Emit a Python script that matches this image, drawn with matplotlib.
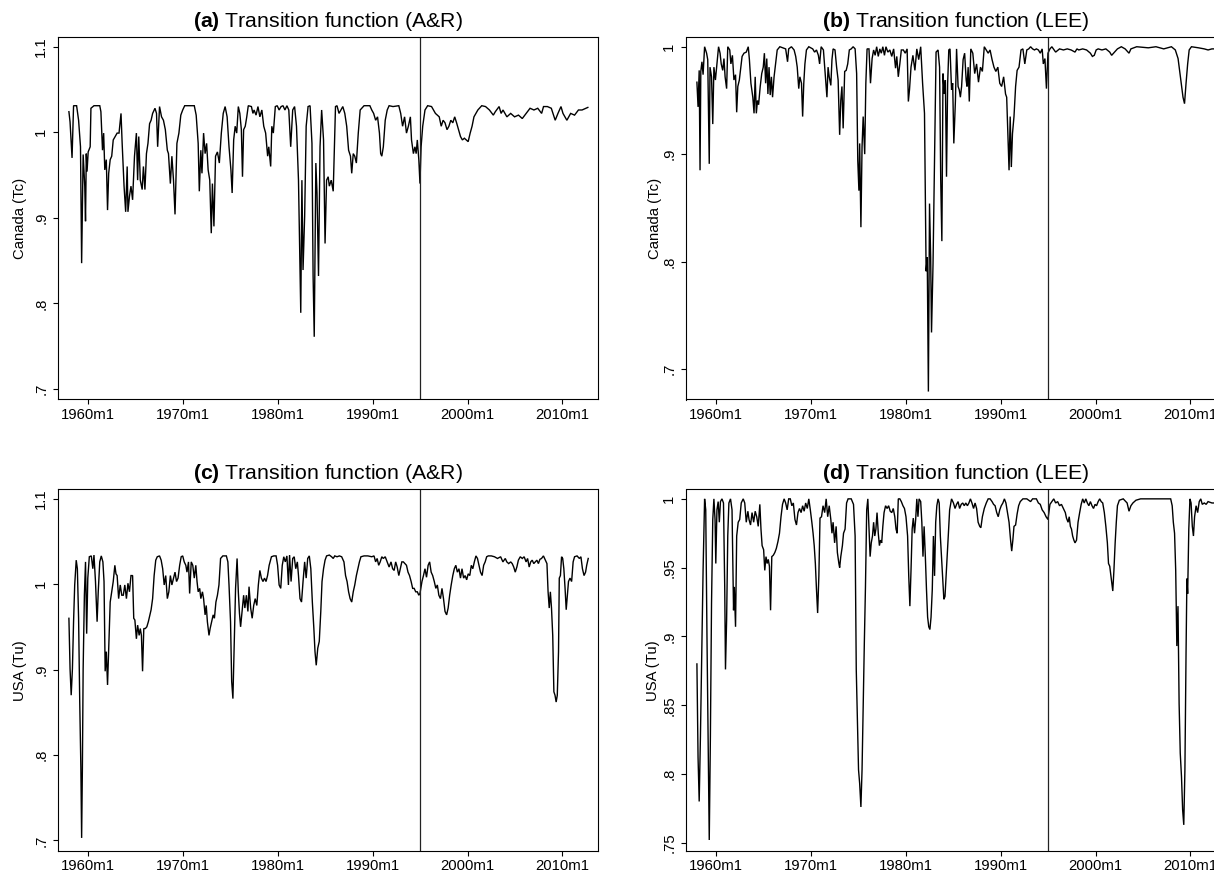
import matplotlib
matplotlib.use('Agg')
import matplotlib.pyplot as plt
import numpy as np

plt.rcParams['font.family'] = ['Liberation Sans', 'DejaVu Sans']
plt.rcParams['mathtext.fontset'] = 'custom'
plt.rcParams['mathtext.rm'] = 'Liberation Sans'
plt.rcParams['mathtext.bf'] = 'Liberation Sans:bold'

# ---------------- data (decimal year, value) ----------------
canada_ar = [
(1958.00,1.024),(1958.12,1.012),(1958.33,0.970),(1958.49,1.031),(1958.81,1.031),(1959.02,1.014),(1959.22,0.983),(1959.34,0.847),(1959.50,0.974),(1959.67,0.937),(1959.75,0.896),(1959.83,0.975),(1959.91,0.954),(1960.03,0.977),(1960.24,0.983),(1960.32,1.028),(1960.64,1.031),(1961.25,1.031),(1961.37,1.024),(1961.54,0.979),(1961.66,0.999),(1961.78,0.956),(1961.94,0.968),(1962.07,0.909),(1962.19,0.952),(1962.35,0.968),(1962.51,0.972),(1962.67,0.991),(1962.88,0.995),(1963.08,0.999),(1963.28,0.999),(1963.49,1.022),(1963.61,0.987),(1963.81,0.937),(1963.98,0.907),(1964.14,0.960),(1964.22,0.907),(1964.38,0.925),(1964.54,0.937),(1964.71,0.921),(1964.91,0.972),(1965.11,0.999),(1965.24,0.944),(1965.36,0.995),(1965.52,0.944),(1965.72,0.933),(1965.85,0.960),(1966.01,0.933),(1966.17,0.975),(1966.33,0.987),(1966.50,1.010),(1966.66,1.014),(1966.82,1.022),(1967.07,1.028),(1967.23,1.022),(1967.35,0.983),(1967.55,1.030),(1967.76,1.018),(1967.96,1.014),(1968.16,1.003),(1968.37,0.979),(1968.49,0.975),(1968.69,0.940),(1968.85,0.972),(1969.02,0.944),(1969.18,0.904),(1969.38,0.987),(1969.59,0.999),(1969.79,1.020),(1969.99,1.026),(1970.20,1.031),(1971.21,1.031),(1971.41,1.020),(1971.62,0.987),(1971.74,0.931),(1971.90,0.979),(1972.02,0.952),(1972.19,0.999),(1972.35,0.975),(1972.51,0.987),(1972.67,0.956),(1972.84,0.944),(1973.00,0.882),(1973.12,0.940),(1973.28,0.890),(1973.45,0.972),(1973.65,0.977),(1973.85,0.964),(1974.06,0.999),(1974.26,1.022),(1974.46,1.030),(1974.67,1.018),(1974.87,0.983),(1975.07,0.956),(1975.20,0.929),(1975.36,0.991),(1975.52,1.007),(1975.68,0.999),(1975.85,1.030),(1976.01,1.022),(1976.17,1.003),(1976.29,0.948),(1976.41,1.003),(1976.58,1.007),(1976.74,1.018),(1976.90,1.031),(1977.23,1.030),(1977.39,1.022),(1977.51,1.026),(1977.72,1.020),(1977.92,1.030),(1978.12,1.018),(1978.33,1.026),(1978.53,1.007),(1978.73,0.999),(1978.94,0.972),(1979.06,0.983),(1979.26,0.960),(1979.38,1.007),(1979.54,0.999),(1979.75,1.030),(1979.95,1.031),(1980.15,1.026),(1980.36,1.030),(1980.56,1.031),(1980.76,1.026),(1980.97,1.031),(1981.17,1.026),(1981.37,0.983),(1981.58,1.026),(1981.78,1.030),(1981.98,1.007),(1982.19,0.944),(1982.27,0.890),(1982.43,0.789),(1982.55,0.944),(1982.67,0.839),(1982.84,0.902),(1983.00,1.007),(1983.20,1.030),(1983.41,1.031),(1983.61,0.987),(1983.73,0.832),(1983.85,0.761),(1984.02,0.964),(1984.14,0.929),(1984.30,0.832),(1984.46,0.983),(1984.63,1.026),(1984.83,0.991),(1984.99,0.870),(1985.15,0.944),(1985.32,0.948),(1985.44,0.937),(1985.64,0.944),(1985.85,0.931),(1986.01,0.999),(1986.09,1.030),(1986.25,1.031),(1986.46,1.022),(1986.66,1.026),(1986.86,1.030),(1987.07,1.022),(1987.27,1.007),(1987.47,0.979),(1987.67,0.972),(1987.80,0.952),(1987.96,0.975),(1988.12,0.972),(1988.29,0.964),(1988.49,0.999),(1988.69,1.026),(1989.10,1.031),(1989.71,1.031),(1989.91,1.026),(1990.11,1.022),(1990.32,1.014),(1990.52,1.018),(1990.72,0.999),(1990.85,0.975),(1990.97,0.972),(1991.13,0.983),(1991.33,1.014),(1991.54,1.026),(1991.74,1.031),(1992.15,1.030),(1992.76,1.031),(1992.96,1.022),(1993.16,1.007),(1993.37,1.018),(1993.57,0.999),(1993.77,1.007),(1993.98,1.018),(1994.10,0.991),(1994.30,0.975),(1994.46,0.983),(1994.59,0.975),(1994.71,0.991),(1994.87,0.968),(1994.99,0.940),(1995.11,0.983),(1995.28,1.007),(1995.52,1.026),(1995.80,1.031),(1996.21,1.030),(1996.62,1.022),(1997.02,1.018),(1997.23,1.007),(1997.43,1.014),(1997.63,1.011),(1997.84,1.003),(1998.04,1.007),(1998.24,1.014),(1998.45,1.011),(1998.65,1.018),(1998.85,1.011),(1999.06,1.003),(1999.26,0.995),(1999.46,0.991),(1999.67,0.993),(1999.87,0.991),(2000.07,0.989),(2000.28,0.999),(2000.48,1.007),(2000.68,1.018),(2001.09,1.026),(2001.50,1.031),(2001.90,1.030),(2002.31,1.026),(2002.72,1.020),(2002.93,1.024),(2003.33,1.030),(2003.54,1.022),(2003.74,1.026),(2004.15,1.018),(2004.55,1.022),(2004.96,1.018),(2005.37,1.020),(2005.77,1.016),(2006.18,1.022),(2006.59,1.028),(2007.00,1.026),(2007.40,1.028),(2007.81,1.022),(2008.01,1.030),(2008.42,1.030),(2008.83,1.028),(2009.24,1.014),(2009.53,1.022),(2009.85,1.030),(2010.06,1.022),(2010.47,1.014),(2010.87,1.022),(2011.28,1.020),(2011.69,1.026),(2012.07,1.026),(2012.48,1.028),(2012.68,1.029)]

canada_lee = [
(1958.00,0.967),(1958.12,0.944),(1958.24,0.978),(1958.33,0.885),(1958.41,0.977),(1958.53,0.986),(1958.65,0.974),(1958.81,1.000),(1959.02,0.994),(1959.14,0.988),(1959.30,0.891),(1959.38,0.981),(1959.54,0.972),(1959.67,0.928),(1959.79,0.981),(1959.95,0.969),(1960.11,0.984),(1960.28,1.000),(1960.44,0.994),(1960.56,0.984),(1960.72,0.978),(1960.85,0.989),(1960.97,0.972),(1961.13,0.961),(1961.25,1.000),(1961.46,0.997),(1961.58,0.984),(1961.74,0.992),(1961.90,0.969),(1962.07,0.974),(1962.19,0.939),(1962.31,0.963),(1962.47,0.969),(1962.59,0.978),(1962.76,0.991),(1962.96,0.994),(1963.20,0.995),(1963.41,1.000),(1963.53,0.988),(1963.69,0.966),(1963.89,0.953),(1964.02,0.938),(1964.14,0.972),(1964.26,0.938),(1964.38,0.950),(1964.50,0.946),(1964.67,0.963),(1964.83,0.975),(1964.99,0.981),(1965.11,0.994),(1965.24,0.966),(1965.36,0.989),(1965.48,0.956),(1965.60,0.981),(1965.72,0.955),(1965.85,0.972),(1965.97,0.953),(1966.13,0.972),(1966.29,0.984),(1966.46,0.997),(1966.74,1.000),(1967.35,0.998),(1967.55,0.986),(1967.67,0.998),(1967.96,1.000),(1968.24,0.997),(1968.41,0.991),(1968.57,0.981),(1968.73,0.961),(1968.85,0.972),(1969.02,0.966),(1969.14,0.935),(1969.26,0.966),(1969.38,0.984),(1969.54,0.997),(1969.79,1.000),(1970.20,0.998),(1970.40,0.995),(1970.60,0.997),(1970.80,0.992),(1970.93,0.984),(1971.09,1.000),(1971.33,0.997),(1971.54,0.972),(1971.70,0.953),(1971.82,0.981),(1971.94,0.972),(1972.11,0.964),(1972.23,0.988),(1972.35,0.998),(1972.55,0.997),(1972.72,0.981),(1972.88,0.969),(1973.04,0.918),(1973.16,0.950),(1973.28,0.963),(1973.41,0.924),(1973.57,0.977),(1973.73,0.978),(1973.89,0.984),(1974.06,0.997),(1974.26,0.998),(1974.46,1.000),(1974.67,0.998),(1974.83,0.975),(1974.95,0.894),(1975.07,0.866),(1975.15,0.910),(1975.28,0.832),(1975.40,0.907),(1975.52,0.935),(1975.68,0.900),(1975.80,0.966),(1975.93,0.998),(1976.13,0.998),(1976.29,0.966),(1976.46,0.989),(1976.62,0.997),(1976.78,0.992),(1976.94,1.000),(1977.11,0.991),(1977.27,0.998),(1977.43,0.994),(1977.59,1.000),(1977.76,0.992),(1977.92,1.000),(1978.12,0.995),(1978.33,0.997),(1978.53,0.991),(1978.73,0.998),(1978.93,0.980),(1979.06,0.991),(1979.22,0.972),(1979.38,0.984),(1979.54,0.997),(1979.75,0.997),(1979.95,0.994),(1980.15,0.998),(1980.28,0.949),(1980.40,0.960),(1980.56,0.981),(1980.76,0.992),(1980.97,0.978),(1981.17,0.998),(1981.37,0.988),(1981.58,1.000),(1981.78,0.966),(1981.98,0.938),(1982.15,0.791),(1982.27,0.804),(1982.39,0.679),(1982.51,0.854),(1982.63,0.804),(1982.72,0.734),(1982.88,0.798),(1983.04,0.894),(1983.20,0.995),(1983.41,0.997),(1983.57,0.981),(1983.69,0.876),(1983.81,0.819),(1983.93,0.975),(1984.06,0.956),(1984.18,0.969),(1984.30,0.879),(1984.42,0.966),(1984.54,0.997),(1984.67,0.998),(1984.83,0.960),(1984.95,0.966),(1985.07,0.910),(1985.24,0.950),(1985.36,0.998),(1985.52,0.963),(1985.64,0.960),(1985.76,0.953),(1985.89,0.963),(1986.05,0.988),(1986.21,0.994),(1986.37,0.969),(1986.46,0.963),(1986.58,0.981),(1986.70,0.949),(1986.86,0.998),(1987.07,0.994),(1987.27,0.975),(1987.47,0.984),(1987.67,0.967),(1987.88,0.981),(1988.08,0.977),(1988.28,1.000),(1988.49,0.997),(1988.69,0.994),(1988.89,0.997),(1989.10,0.988),(1989.30,0.981),(1989.50,0.977),(1989.71,0.981),(1989.91,0.966),(1990.11,0.963),(1990.32,0.972),(1990.52,0.956),(1990.64,0.953),(1990.76,0.919),(1990.89,0.885),(1991.01,0.935),(1991.13,0.888),(1991.25,0.919),(1991.41,0.935),(1991.58,0.963),(1991.74,0.978),(1991.94,0.981),(1992.15,0.997),(1992.35,0.998),(1992.55,0.984),(1992.76,0.997),(1992.96,0.998),(1993.16,1.000),(1993.37,0.998),(1993.57,0.997),(1993.77,0.998),(1993.98,0.997),(1994.18,0.994),(1994.38,0.998),(1994.50,0.984),(1994.67,0.989),(1994.83,0.961),(1994.99,0.994),(1995.20,0.998),(1995.40,1.000),(1995.80,0.995),(1996.21,0.998),(1996.62,0.997),(1997.02,0.998),(1997.43,0.997),(1997.84,0.995),(1998.04,0.998),(1998.24,0.997),(1998.65,0.998),(1999.06,0.997),(1999.46,0.994),(1999.67,0.991),(1999.87,0.992),(2000.07,0.997),(2000.28,0.998),(2000.68,0.997),(2001.09,0.998),(2001.50,0.995),(2001.70,0.992),(2001.90,0.994),(2002.31,0.998),(2002.72,1.000),(2003.12,0.998),(2003.53,0.994),(2003.73,0.998),(2004.34,1.000),(2005.56,0.999),(2006.37,1.000),(2007.19,0.998),(2008.00,1.000),(2008.41,0.997),(2008.70,0.989),(2008.90,0.975),(2009.06,0.964),(2009.22,0.953),(2009.38,0.947),(2009.54,0.966),(2009.71,0.984),(2009.87,0.997),(2010.11,1.000),(2010.85,0.999),(2011.46,0.998),(2011.86,0.997),(2012.27,0.998),(2012.92,0.998)]

usa_ar = [
(1958.00,0.960),(1958.12,0.901),(1958.24,0.870),(1958.37,0.901),(1958.49,0.956),(1958.61,0.999),(1958.77,1.028),(1958.89,1.018),(1959.02,0.960),(1959.14,0.862),(1959.26,0.785),(1959.34,0.703),(1959.42,0.785),(1959.50,0.901),(1959.63,0.987),(1959.75,1.026),(1959.87,0.942),(1959.99,1.007),(1960.15,1.032),(1960.36,1.033),(1960.52,1.018),(1960.64,1.034),(1960.80,1.003),(1960.97,0.956),(1961.09,0.991),(1961.25,1.026),(1961.41,1.033),(1961.58,1.026),(1961.70,1.003),(1961.82,0.898),(1961.94,0.921),(1962.07,0.882),(1962.19,0.925),(1962.35,0.979),(1962.51,0.991),(1962.67,1.003),(1962.84,1.022),(1962.96,1.012),(1963.08,1.010),(1963.24,0.983),(1963.41,0.999),(1963.57,0.987),(1963.73,0.987),(1963.89,0.999),(1964.06,0.983),(1964.22,1.001),(1964.38,0.991),(1964.54,1.010),(1964.71,1.010),(1964.83,0.960),(1964.95,0.958),(1965.11,0.936),(1965.24,0.952),(1965.40,0.940),(1965.52,0.948),(1965.64,0.940),(1965.76,0.898),(1965.89,0.948),(1966.05,0.948),(1966.21,0.950),(1966.37,0.956),(1966.54,0.964),(1966.66,0.970),(1966.82,0.983),(1966.98,1.010),(1967.15,1.028),(1967.31,1.032),(1967.55,1.033),(1967.72,1.028),(1967.88,1.018),(1968.04,0.999),(1968.20,1.010),(1968.37,0.983),(1968.53,0.991),(1968.69,1.010),(1968.85,0.999),(1969.02,1.007),(1969.18,1.014),(1969.34,1.003),(1969.50,1.007),(1969.67,1.022),(1969.83,1.032),(1969.99,1.033),(1970.15,1.026),(1970.32,1.022),(1970.44,1.014),(1970.60,1.026),(1970.72,0.989),(1970.89,1.026),(1971.05,1.022),(1971.21,1.007),(1971.37,1.022),(1971.50,1.003),(1971.62,0.991),(1971.78,0.995),(1971.90,0.983),(1972.07,0.991),(1972.19,0.983),(1972.35,0.964),(1972.47,0.975),(1972.59,0.956),(1972.76,0.940),(1972.88,0.948),(1973.04,0.956),(1973.20,0.964),(1973.33,0.960),(1973.49,0.979),(1973.65,0.987),(1973.81,0.999),(1973.98,1.030),(1974.22,1.033),(1974.59,1.033),(1974.75,1.026),(1974.87,0.999),(1975.03,0.956),(1975.15,0.886),(1975.28,0.866),(1975.40,0.921),(1975.56,0.995),(1975.72,1.030),(1975.85,0.991),(1975.97,0.966),(1976.09,0.950),(1976.25,0.968),(1976.41,0.987),(1976.54,0.972),(1976.70,0.987),(1976.86,0.968),(1976.98,0.997),(1977.15,0.972),(1977.31,0.960),(1977.47,0.975),(1977.63,0.983),(1977.80,0.975),(1977.96,0.999),(1978.12,1.016),(1978.28,1.007),(1978.45,1.003),(1978.61,1.007),(1978.77,1.003),(1978.93,1.010),(1979.10,1.022),(1979.34,1.032),(1979.59,1.033),(1979.83,1.033),(1979.99,1.022),(1980.15,0.999),(1980.32,0.995),(1980.48,1.022),(1980.64,1.032),(1980.80,1.026),(1980.97,1.033),(1981.13,0.999),(1981.25,1.034),(1981.41,1.003),(1981.58,1.030),(1981.74,1.032),(1981.90,1.018),(1982.07,1.026),(1982.19,1.010),(1982.35,0.983),(1982.51,0.979),(1982.67,1.003),(1982.84,1.026),(1983.00,1.007),(1983.16,1.030),(1983.33,1.033),(1983.49,1.018),(1983.65,0.979),(1983.81,0.948),(1983.93,0.921),(1984.06,0.905),(1984.22,0.925),(1984.38,0.933),(1984.54,0.968),(1984.67,1.003),(1984.83,1.018),(1984.99,1.028),(1985.15,1.033),(1985.44,1.034),(1985.68,1.032),(1985.85,1.030),(1986.01,1.033),(1986.25,1.032),(1986.50,1.033),(1986.74,1.032),(1986.98,1.026),(1987.15,1.010),(1987.31,1.003),(1987.47,0.991),(1987.63,0.983),(1987.80,0.979),(1987.96,0.991),(1988.12,0.999),(1988.29,1.010),(1988.45,1.018),(1988.61,1.026),(1988.77,1.032),(1989.10,1.033),(1989.50,1.033),(1989.91,1.032),(1990.15,1.033),(1990.32,1.026),(1990.48,1.030),(1990.64,1.022),(1990.80,1.026),(1990.97,1.032),(1991.13,1.030),(1991.33,1.032),(1991.54,1.026),(1991.74,1.020),(1991.94,1.026),(1992.11,1.018),(1992.27,1.016),(1992.43,1.026),(1992.59,1.020),(1992.76,1.010),(1992.92,1.018),(1993.08,1.026),(1993.24,1.026),(1993.41,1.024),(1993.57,1.022),(1993.73,1.014),(1993.89,1.010),(1994.06,1.003),(1994.22,0.995),(1994.38,0.995),(1994.54,0.991),(1994.71,0.991),(1994.87,0.987),(1994.99,0.989),(1995.20,1.003),(1995.36,1.010),(1995.52,1.018),(1995.68,1.008),(1995.85,1.022),(1996.01,1.026),(1996.17,1.014),(1996.33,1.010),(1996.50,1.003),(1996.66,0.995),(1996.82,0.999),(1996.98,0.987),(1997.15,0.983),(1997.31,0.995),(1997.47,0.983),(1997.63,0.968),(1997.80,0.964),(1997.96,0.972),(1998.12,0.987),(1998.28,0.999),(1998.45,1.010),(1998.61,1.018),(1998.77,1.022),(1998.93,1.014),(1999.10,1.018),(1999.26,1.007),(1999.42,1.018),(1999.59,1.007),(1999.75,1.010),(1999.91,1.005),(2000.07,1.012),(2000.24,1.010),(2000.40,1.022),(2000.56,1.018),(2000.72,1.026),(2000.89,1.033),(2001.05,1.030),(2001.21,1.022),(2001.37,1.014),(2001.54,1.010),(2001.70,1.022),(2001.86,1.026),(2002.02,1.032),(2002.19,1.033),(2002.51,1.033),(2002.84,1.032),(2003.16,1.030),(2003.49,1.032),(2003.73,1.026),(2003.98,1.030),(2004.14,1.026),(2004.34,1.024),(2004.55,1.026),(2004.71,1.024),(2004.87,1.020),(2005.03,1.014),(2005.20,1.020),(2005.36,1.028),(2005.56,1.032),(2005.77,1.030),(2005.97,1.032),(2006.17,1.026),(2006.33,1.030),(2006.50,1.020),(2006.66,1.026),(2006.82,1.028),(2006.98,1.024),(2007.15,1.026),(2007.31,1.028),(2007.47,1.024),(2007.63,1.029),(2007.80,1.030),(2008.00,1.033),(2008.20,1.028),(2008.37,1.024),(2008.49,0.991),(2008.61,0.972),(2008.73,0.991),(2008.85,0.972),(2008.98,0.940),(2009.10,0.874),(2009.22,0.870),(2009.34,0.862),(2009.46,0.870),(2009.59,0.921),(2009.67,1.007),(2009.79,1.010),(2009.91,1.032),(2010.03,1.030),(2010.15,1.018),(2010.28,0.995),(2010.40,0.970),(2010.52,0.987),(2010.64,1.003),(2010.80,1.007),(2010.97,1.003),(2011.13,1.026),(2011.28,1.032),(2011.54,1.033),(2011.79,1.030),(2011.95,1.032),(2012.11,1.018),(2012.28,1.010),(2012.44,1.014),(2012.56,1.022),(2012.72,1.030)]

usa_lee = [
(1958.00,0.880),(1958.12,0.812),(1958.24,0.780),(1958.37,0.827),(1958.49,0.880),(1958.65,0.948),(1958.81,1.000),(1958.93,0.992),(1959.06,0.900),(1959.18,0.827),(1959.30,0.752),(1959.42,0.827),(1959.54,0.924),(1959.67,0.985),(1959.79,1.000),(1959.91,0.985),(1959.99,0.953),(1960.11,0.992),(1960.24,0.998),(1960.36,0.983),(1960.48,0.998),(1960.64,1.000),(1960.80,0.997),(1960.93,0.936),(1961.01,0.876),(1961.13,0.912),(1961.25,0.973),(1961.37,0.997),(1961.54,1.000),(1961.70,0.992),(1961.86,0.919),(1961.94,0.936),(1962.07,0.907),(1962.19,0.973),(1962.35,0.983),(1962.51,0.985),(1962.67,0.997),(1962.88,1.000),(1963.04,0.997),(1963.20,0.983),(1963.37,0.991),(1963.49,0.985),(1963.65,0.981),(1963.81,0.990),(1963.98,0.983),(1964.14,0.991),(1964.30,0.987),(1964.46,0.980),(1964.63,0.996),(1964.75,0.978),(1964.87,0.966),(1965.03,0.963),(1965.15,0.948),(1965.28,0.958),(1965.40,0.953),(1965.52,0.956),(1965.64,0.951),(1965.76,0.919),(1965.89,0.958),(1966.05,0.959),(1966.21,0.961),(1966.37,0.964),(1966.54,0.969),(1966.70,0.975),(1966.86,0.987),(1967.02,0.996),(1967.19,1.000),(1967.35,0.997),(1967.51,0.992),(1967.67,1.000),(1967.84,1.000),(1968.00,0.995),(1968.16,0.997),(1968.33,0.985),(1968.49,0.981),(1968.65,0.990),(1968.81,0.993),(1968.98,0.990),(1969.14,0.995),(1969.30,0.991),(1969.46,0.997),(1969.63,0.993),(1969.79,1.000),(1969.95,0.992),(1970.11,0.983),(1970.24,0.975),(1970.36,0.966),(1970.48,0.953),(1970.60,0.934),(1970.72,0.917),(1970.85,0.944),(1970.97,0.986),(1971.13,0.987),(1971.29,0.995),(1971.46,0.990),(1971.62,1.000),(1971.78,0.987),(1971.94,0.995),(1972.11,0.985),(1972.23,0.975),(1972.35,0.983),(1972.51,0.968),(1972.67,0.980),(1972.80,0.961),(1972.96,0.953),(1973.04,0.950),(1973.16,0.958),(1973.33,0.966),(1973.45,0.975),(1973.61,0.978),(1973.77,0.997),(1973.93,1.000),(1974.26,1.000),(1974.50,0.996),(1974.67,0.973),(1974.79,0.876),(1974.91,0.839),(1975.03,0.803),(1975.15,0.793),(1975.28,0.776),(1975.40,0.803),(1975.52,0.851),(1975.64,0.895),(1975.76,0.936),(1975.89,0.992),(1976.01,1.000),(1976.13,0.978),(1976.25,0.958),(1976.37,0.968),(1976.50,0.973),(1976.62,0.983),(1976.74,0.973),(1976.86,0.978),(1976.98,0.990),(1977.11,0.975),(1977.23,0.966),(1977.35,0.970),(1977.47,0.968),(1977.59,0.980),(1977.72,0.990),(1977.88,0.995),(1978.04,0.993),(1978.20,0.995),(1978.37,0.991),(1978.53,0.990),(1978.69,0.993),(1978.85,0.987),(1978.98,0.978),(1979.10,0.975),(1979.22,1.000),(1979.38,1.000),(1979.54,0.998),(1979.71,0.995),(1979.87,0.993),(1980.03,0.987),(1980.20,0.973),(1980.32,0.944),(1980.44,0.922),(1980.56,0.948),(1980.68,0.978),(1980.80,0.986),(1980.93,0.975),(1981.05,0.985),(1981.17,1.000),(1981.29,0.987),(1981.41,1.000),(1981.58,0.998),(1981.70,0.983),(1981.82,0.958),(1981.94,0.980),(1982.07,0.958),(1982.19,0.934),(1982.31,0.914),(1982.43,0.907),(1982.55,0.905),(1982.67,0.914),(1982.80,0.934),(1982.92,0.973),(1983.04,0.944),(1983.16,0.983),(1983.28,0.995),(1983.41,1.000),(1983.53,0.997),(1983.65,0.973),(1983.77,0.958),(1983.89,0.944),(1984.02,0.927),(1984.14,0.929),(1984.26,0.944),(1984.38,0.958),(1984.50,0.975),(1984.63,0.992),(1984.83,1.000),(1985.03,0.997),(1985.20,0.993),(1985.36,0.996),(1985.52,0.998),(1985.68,0.993),(1985.85,0.996),(1986.01,0.997),(1986.17,0.995),(1986.33,0.997),(1986.50,0.995),(1986.66,0.997),(1986.82,1.000),(1986.98,0.997),(1987.15,0.993),(1987.31,0.997),(1987.47,0.993),(1987.63,0.983),(1987.80,0.980),(1987.92,0.979),(1988.08,0.987),(1988.28,0.993),(1988.49,0.997),(1988.69,1.000),(1988.89,1.000),(1989.10,0.998),(1989.26,0.996),(1989.42,0.995),(1989.59,0.990),(1989.75,0.987),(1989.91,0.992),(1990.07,0.995),(1990.24,0.997),(1990.40,1.000),(1990.56,0.997),(1990.72,0.990),(1990.89,0.983),(1991.05,0.970),(1991.17,0.962),(1991.29,0.970),(1991.41,0.980),(1991.58,0.981),(1991.74,0.989),(1991.90,0.995),(1992.07,0.998),(1992.35,1.000),(1992.76,1.000),(1993.16,0.998),(1993.37,1.000),(1993.77,1.000),(1993.98,0.997),(1994.18,0.996),(1994.38,0.992),(1994.59,0.990),(1994.79,0.987),(1994.99,0.985),(1995.20,0.996),(1995.40,0.998),(1995.60,1.000),(1995.80,0.997),(1996.01,0.998),(1996.21,0.995),(1996.41,0.996),(1996.62,0.993),(1996.82,0.990),(1996.94,0.986),(1997.11,0.983),(1997.23,0.987),(1997.35,0.980),(1997.47,0.978),(1997.59,0.973),(1997.72,0.970),(1997.84,0.968),(1998.00,0.970),(1998.16,0.983),(1998.33,0.990),(1998.49,0.996),(1998.65,1.000),(1998.81,0.997),(1998.98,1.000),(1999.14,0.997),(1999.30,0.995),(1999.46,0.998),(1999.63,0.995),(1999.79,0.993),(1999.95,0.996),(2000.11,0.995),(2000.28,0.998),(2000.44,1.000),(2000.60,0.998),(2000.76,0.997),(2000.93,0.990),(2001.09,0.980),(2001.25,0.968),(2001.37,0.953),(2001.50,0.951),(2001.62,0.944),(2001.70,0.939),(2001.82,0.933),(2001.94,0.948),(2002.07,0.968),(2002.19,0.983),(2002.31,0.995),(2002.51,0.999),(2002.92,1.000),(2003.33,0.997),(2003.53,0.991),(2003.73,0.995),(2003.94,0.997),(2004.26,0.999),(2004.75,1.000),(2005.56,1.000),(2006.37,1.000),(2007.19,1.000),(2007.92,1.000),(2008.08,0.995),(2008.20,0.983),(2008.33,0.975),(2008.45,0.948),(2008.57,0.893),(2008.69,0.922),(2008.81,0.851),(2008.93,0.815),(2009.06,0.798),(2009.18,0.774),(2009.30,0.763),(2009.42,0.803),(2009.54,0.888),(2009.63,0.942),(2009.71,0.931),(2009.83,0.978),(2009.95,1.000),(2010.07,0.997),(2010.20,0.980),(2010.32,0.973),(2010.44,0.987),(2010.60,0.995),(2010.76,0.990),(2010.93,0.998),(2011.09,1.000),(2011.25,0.996),(2011.46,0.997),(2011.66,0.996),(2011.86,0.998),(2012.27,0.997),(2012.92,0.997)]

x_ticks = [1960, 1970, 1980, 1990, 2000, 2010]
x_tick_labels = ['1960m1', '1970m1', '1980m1', '1990m1', '2000m1', '2010m1']
break_date = 1995.0

ar_yticks = [0.7, 0.8, 0.9, 1.0, 1.1]
ar_ylabels = ['.7', '.8', '.9', '1', '1.1']
ca_lee_yticks = [0.7, 0.8, 0.9, 1.0]
ca_lee_ylabels = ['.7', '.8', '.9', '1']
us_lee_yticks = [0.75, 0.8, 0.85, 0.9, 0.95, 1.0]
us_lee_ylabels = ['.75', '.8', '.85', '.9', '.95', '1']

titles = ['Transition function (A&R)', 'Transition function (LEE)',
          'Transition function (A&R)', 'Transition function (LEE)']
letters = ['(a)', '(b)', '(c)', '(d)']
ylabels = ['Canada (Tc)', 'Canada (Tc)', 'USA (Tu)', 'USA (Tu)']

# ---------------- layout ----------------
W, H = 1214, 873
fig = plt.figure(figsize=(W / 100, H / 100), dpi=100)
fig.patch.set_facecolor('white')

def rect(l, t, r, b):
    return [l / W, 1 - b / H, (r - l) / W, (b - t) / H]

panels = [
    dict(box=(58, 37.5, 598, 399.5), data=canada_ar, ylim=(0.6877, 1.1107),
         yt=ar_yticks, yl=ar_ylabels, labx=20),
    dict(box=(686, 37.5, 1226, 399.5), data=canada_lee, ylim=(0.6716, 1.0086),
         yt=ca_lee_yticks, yl=ca_lee_ylabels, labx=655),
    dict(box=(58, 489.5, 598, 851), data=usa_ar, ylim=(0.6877, 1.1107),
         yt=ar_yticks, yl=ar_ylabels, labx=20),
    dict(box=(686, 489.5, 1226, 851), data=usa_lee, ylim=(0.7440, 1.0068),
         yt=us_lee_yticks, yl=us_lee_ylabels, labx=653),
]

for i, p in enumerate(panels):
    l, t, r, b = p['box']
    ax = fig.add_axes(rect(l, t, r, b))
    arr = np.array(p['data'])
    ax.plot(arr[:, 0], arr[:, 1], color='black', lw=1.0, solid_joinstyle='miter')
    ax.axvline(break_date, color='#222222', lw=0.9)
    ax.set_xlim(1956.85, 2013.75)
    ax.set_ylim(*p['ylim'])
    ax.set_xticks(x_ticks)
    ax.set_xticklabels(x_tick_labels)
    ax.set_yticks(p['yt'])
    ax.set_yticklabels(p['yl'], rotation=90, va='center')
    ax.tick_params(direction='out', length=3.6, width=0.8, labelsize=10.7,
                   colors='black', top=False, right=False)
    ax.tick_params(axis='x', pad=2.5)
    ax.tick_params(axis='y', pad=3.5)
    for s in ax.spines.values():
        s.set_linewidth(0.8)
        s.set_color('black')
    cx = (l + r) / 2
    fig.text(cx / W, 1 - (t - 16) / H,
             r'$\mathbf{' + letters[i] + r'}$ ' + titles[i],
             ha='center', va='center', fontsize=15.3)
    fig.text(p['labx'] / W, 1 - ((t + b) / 2) / H, ylabels[i], rotation=90,
             ha='center', va='center', fontsize=10.7)

fig.savefig('out.png', dpi=100, facecolor='white')
